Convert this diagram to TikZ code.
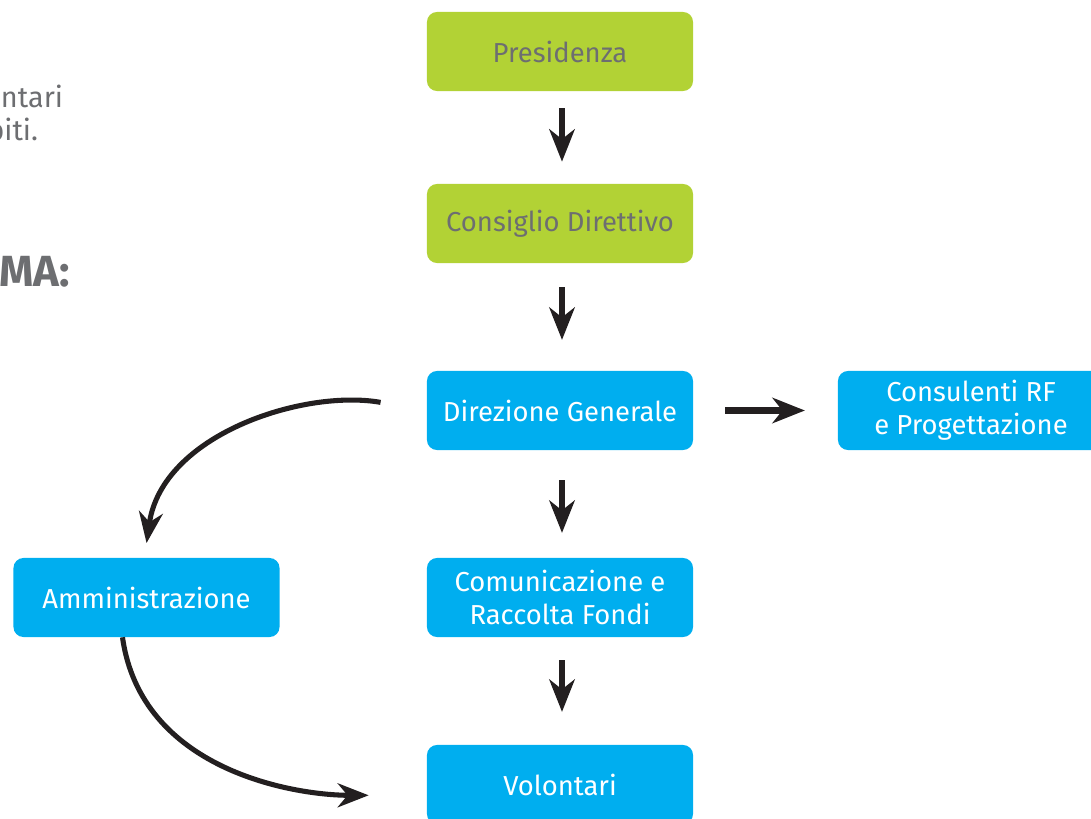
\documentclass[tikz,border=0pt]{standalone}
\usepackage{fontspec}
\setmainfont{Fira Sans}[UprightFont=* Light, BoldFont=* Bold, Ligatures=NoCommon]
\newfontfamily\regolare{Fira Sans}[Ligatures=NoCommon]
\usetikzlibrary{arrows.meta}
\definecolor{verde}{HTML}{B2D235}
\definecolor{azzurro}{HTML}{00AEEF}
\definecolor{grigio}{HTML}{6D6E71}
\definecolor{nero}{HTML}{231F20}
\tikzset{
	box/.style={rounded corners=0.25cm, minimum width=6.65cm, minimum height=1.975cm, inner sep=0pt, align=center, font=\regolare\fontsize{19.5}{23.5}\selectfont},
	verdebox/.style={box, fill=verde, text=grigio},
	bluebox/.style={box, fill=azzurro, text=white},
	freccia/.style={draw=nero, line width=4.3pt, -{Stealth[length=23pt,width=18pt,inset=7pt]}},
	curva/.style={draw=nero, line width=3.6pt, -{Stealth[length=22pt,width=17pt,inset=7pt]}},
	frammento/.style={anchor=base east, text=grigio, font=\regolare\fontsize{20.5}{23.5}\selectfont}
}
\begin{document}
\begin{tikzpicture}[x=0.025cm,y=0.025cm]
	\useasboundingbox (0,0) rectangle (1091,-819);
	\clip (0,0) rectangle (1091,-819);
	\node[frammento] (riga1) at (68,-108) {ntari};
	\node[frammento] (riga2) at (43,-141) {piti.};
	\node[frammento, font=\fontsize{31}{32}\selectfont\bfseries] (titolo) at (75,-287) {MA:};
	\node[verdebox] (pres) at (560,-51.5) {Presidenza};
	\node[verdebox] (cons) at (560,-223.5) {Consiglio Direttivo};
	\node[bluebox] (dir) at (560,-410.5) {Direzione Generale};
	\node[bluebox] (rf) at (971,-410.5) {Consulenti RF\\e Progettazione};
	\node[bluebox] (amm) at (146.5,-597.5) {Amministrazione};
	\node[bluebox] (com) at (560,-597.5) {Comunicazione e\\Raccolta Fondi};
	\node[bluebox] (vol) at (560,-784.5) {Volontari};
	\foreach \a/\b/\s/\e in {pres/cons/0.42/0.55, cons/dir/0.6/0.77, dir/com/0.75/0.62, com/vol/0.57/0.82}{
		\draw[freccia, shorten <=\s cm, shorten >=\e cm] ([xshift=0.05cm]\a.south) -- ([xshift=0.05cm]\b.north);
	}
	\draw[freccia, shorten <=0.8cm, shorten >=0.82cm] (dir) -- (rf);
	\draw[curva, shorten <=1.17cm, shorten >=0.37cm] (dir.west) to[out=170, in=82] ([xshift=-0.05cm]amm.north);
	\draw[curva, shorten >=1.45cm] ([xshift=-0.6cm]amm.south) to[out=-82, in=180] ([yshift=-0.27cm]vol.west);
\end{tikzpicture}
\end{document}
